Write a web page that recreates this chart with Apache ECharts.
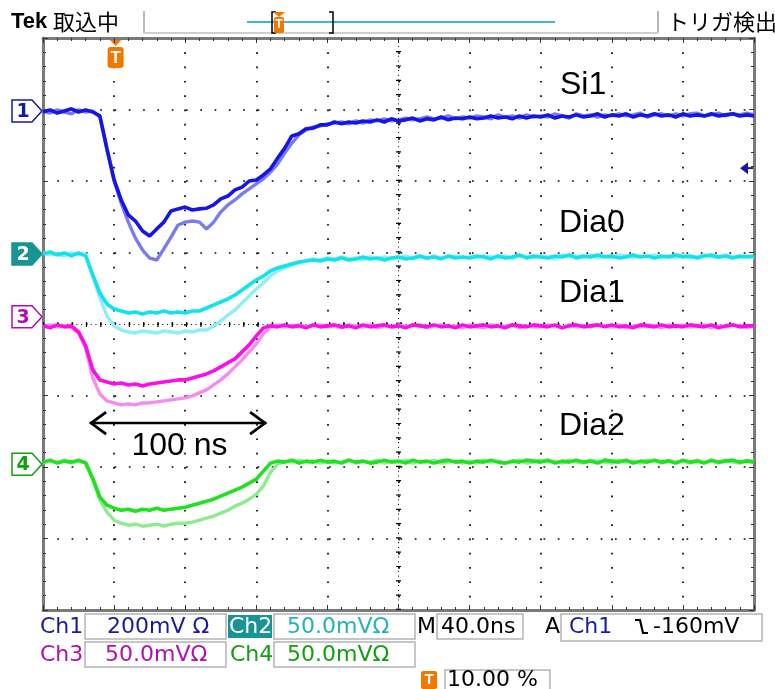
<!DOCTYPE html>
<html><head><meta charset="utf-8">
<script src="https://cdn.jsdelivr.net/npm/echarts@6/dist/echarts.min.js"></script>
<style>html,body{margin:0;padding:0;background:#fff}#c{width:775px;height:689px}</style>
</head><body><div id="c"></div>
<script>
// ---------------- data ----------------
const timeNs = [
 -40,-36,-32,-28,-24,-20,-16,-12,-8,-4,
 0,4,8,12,16,20,24,28,32,36,
 40,44,48,52,56,60,64,68,72,76,
 80,84,88,92,96,100,104,108,112,116,
 120,124,128,132,136,140,144,148,152,156,
 160,164,168,172,176,180,184,188,192,196,
 200,204,208,212,216,220,224,228,232,236,
 240,244,248,252,256,260,264,268,272,276,
 280,284,288,292,296,300,304,308,312,316,
 320,324,328,332,336,340,344,348,352,356,
 360];
const xTicksNs = [-40,0,40,80,120,160,200,240,280,320,360];

const channelNames = ['Si1','Dia0','Dia1','Dia2'];
const channelLabels = ['Ch1','Ch2','Ch3','Ch4'];
const scaleMvPerDiv = [200, 50, 50, 50];
const scaleTexts = ['200mV \u03a9','50.0mV\u03a9','50.0mV\u03a9','50.0mV\u03a9'];
const timePerDivText = '40.0ns';
const triggerLevelMv = -160;
const triggerText = '-160mV';
const triggerPosText = '10.00 %';
const spanNs = 100;

// Ch1 (Si1) in mV
const ch1Upper = [
 -3,3,-6,0,6,-3,3,-3,-14,-106,
 -193,-249,-291,-308,-336,-350,-330,-311,-280,-274,
 -269,-277,-274,-272,-263,-246,-238,-221,-213,-196,
 -193,-179,-162,-132,-104,-70,-64,-50,-48,-39,
 -39,-31,-36,-31,-34,-28,-31,-25,-31,-22,
 -28,-25,-20,-28,-22,-25,-17,-25,-20,-22,
 -17,-22,-20,-14,-20,-17,-22,-14,-20,-14,
 -17,-11,-20,-14,-17,-11,-17,-14,-8,-17,
 -11,-14,-8,-17,-11,-14,-8,-14,-11,-17,
 -8,-14,-11,-14,-8,-14,-11,-8,-14,-11,
 -14];
const ch1Lower = [
 0,-6,3,-3,-8,3,-3,0,-17,-109,
 -196,-258,-311,-356,-389,-412,-417,-386,-353,-319,
 -311,-308,-311,-330,-311,-283,-263,-249,-232,-218,
 -204,-190,-171,-148,-118,-90,-67,-53,-45,-42,
 -36,-34,-31,-36,-28,-34,-25,-28,-22,-28,
 -25,-20,-25,-22,-17,-22,-20,-14,-22,-17,
 -20,-14,-17,-22,-11,-17,-14,-20,-11,-17,
 -14,-17,-8,-14,-20,-8,-14,-11,-17,-11,
 -14,-8,-14,-11,-6,-17,-11,-8,-14,-8,
 -14,-8,-6,-14,-11,-6,-14,-8,-11,-6,
 -11];
// Ch2 (Dia0) in mV
const ch2Upper = [
 0,1.4,-0.7,0.7,-1.4,0.7,-1.4,-14.7,-27.3,-35,
 -38.5,-39.9,-41.3,-40.6,-42,-40.6,-41.3,-39.9,-41.3,-40.6,
 -41.3,-39.9,-39.9,-37.8,-35.7,-33.6,-31.5,-28.7,-25.2,-21.7,
 -18.2,-15.4,-11.9,-9.8,-8.4,-7,-5.6,-4.9,-4.2,-4.9,
 -3.5,-4.2,-2.8,-4.2,-3.5,-2.1,-3.5,-2.8,-4.2,-2.8,
 -2.1,-3.5,-2.8,-1.4,-2.8,-2.1,-3.5,-1.4,-2.8,-2.1,
 -2.8,-1.4,-2.1,-3.5,-1.4,-2.8,-2.1,-0.7,-2.8,-1.4,
 -2.1,-2.8,-1.4,-2.1,-0.7,-2.8,-1.4,-2.1,-0.7,-2.1,
 -1.4,-2.8,-2.1,-0.7,-2.1,-1.4,-2.8,-1.4,-2.1,-0.7,
 -2.1,-1.4,-2.8,-1.4,-0.7,-2.1,-1.4,-2.8,-1.4,-2.1,
 -1.4];
const ch2Lower = [
 0.7,-0.7,0,-1.4,0.7,-0.7,0,-16.1,-30.8,-43.4,
 -50.4,-53.2,-54.6,-55.3,-53.9,-54.6,-55.3,-53.9,-54.6,-55.3,
 -53.9,-54.6,-53.2,-53.2,-50.4,-46.9,-42.7,-39.2,-34.3,-29.4,
 -24.5,-20.3,-15.4,-11.9,-9.8,-7.7,-6.3,-4.9,-3.5,-4.2,
 -2.8,-3.5,-2.1,-3.5,-2.8,-4.2,-2.1,-3.5,-2.1,-3.5,
 -2.8,-1.4,-3.5,-2.1,-3.5,-1.4,-2.8,-2.1,-1.4,-2.8,
 -2.1,-2.8,-1.4,-2.1,-2.8,-1.4,-3.5,-1.4,-2.1,-2.8,
 -1.4,-2.1,-3.5,-0.7,-2.1,-1.4,-2.8,-0.7,-2.8,-1.4,
 -2.8,-0.7,-1.4,-2.8,-1.4,-2.1,-0.7,-2.8,-1.4,-2.8,
 -0.7,-2.8,-2.1,-0.7,-2.1,-2.8,-0.7,-2.1,-2.8,-1.4,
 -2.8];
// Ch3 (Dia1) in mV
const ch3Upper = [
 -6.3,-7.7,-5.6,-7,-6.3,-10.5,-20.3,-37.1,-44.1,-45.5,
 -46.9,-46.2,-47.6,-46.9,-48.3,-46.9,-46.2,-45.5,-44.8,-44.1,
 -44.1,-42.7,-41.3,-39.9,-37.8,-35,-32.2,-29.4,-24.5,-19.6,
 -13.3,-7.7,-6.3,-7,-5.6,-7,-6.3,-7.7,-5.6,-7,
 -6.3,-5.6,-7,-6.3,-7.7,-5.6,-7,-6.3,-5.6,-7,
 -6.3,-7.7,-5.6,-6.3,-7,-5.6,-7,-6.3,-7.7,-5.6,
 -7,-6.3,-5.6,-7,-6.3,-7.7,-5.6,-6.3,-7,-5.6,
 -6.3,-7,-5.6,-7.7,-6.3,-5.6,-7,-6.3,-5.6,-7,
 -5.6,-7,-6.3,-7.7,-5.6,-6.3,-7,-5.6,-7,-6.3,
 -7,-5.6,-6.3,-7,-5.6,-7.7,-6.3,-5.6,-7,-6.3,
 -6.3];
const ch3Lower = [
 -7,-5.6,-7,-6.3,-7.7,-11.2,-21.7,-42.7,-53.9,-58.8,
 -60.2,-61.6,-60.9,-61.6,-60.2,-60.2,-59.5,-58.8,-58.1,-57.4,
 -56.7,-55.3,-53.2,-51.1,-47.6,-44.1,-39.9,-35,-30.1,-24.5,
 -18.9,-11.9,-7,-5.6,-7,-6.3,-5.6,-7,-6.3,-5.6,
 -7,-6.3,-7.7,-5.6,-6.3,-7,-5.6,-7.7,-6.3,-7,
 -5.6,-7,-6.3,-5.6,-7.7,-6.3,-5.6,-7,-6.3,-7.7,
 -5.6,-7,-7.7,-5.6,-7,-6.3,-5.6,-7.7,-6.3,-7,
 -7,-5.6,-6.3,-7.7,-5.6,-7,-6.3,-7,-5.6,-6.3,
 -7,-5.6,-7.7,-6.3,-7,-5.6,-6.3,-7.7,-5.6,-7,
 -5.6,-7,-6.3,-5.6,-7.7,-6.3,-7,-5.6,-6.3,-7.7,
 -5.6];
// Ch4 (Dia2) in mV
const ch4Upper = [
 1.4,2.8,0.7,2.1,1.4,2.8,0.7,-9.8,-23.1,-28.7,
 -30.8,-32.2,-31.5,-32.9,-31.5,-32.2,-30.8,-32.2,-31.5,-30.8,
 -30.1,-28.7,-27.3,-25.9,-24.5,-22.4,-20.3,-18.2,-16.1,-13.3,
 -10.5,-4.9,0.7,2.1,1.4,2.8,0.7,2.1,1.4,2.8,
 1.4,2.1,0.7,2.8,1.4,2.1,0.7,1.4,2.8,1.4,
 2.1,0.7,2.8,1.4,2.1,0.7,2.1,2.8,1.4,2.1,
 0.7,2.1,1.4,2.8,1.4,0.7,2.1,1.4,2.8,2.1,
 1.4,2.8,0.7,2.1,1.4,2.8,1.4,2.1,0.7,2.8,
 2.1,1.4,2.8,0.7,2.1,1.4,2.8,1.4,2.1,0.7,
 2.8,1.4,2.1,0.7,2.8,1.4,2.1,2.8,1.4,2.1,
 1.4];
const ch4Lower = [
 0.7,2.1,1.4,2.8,0.7,2.1,1.4,-11.2,-25.2,-33.6,
 -39.2,-41.3,-42.7,-42,-43.4,-42.7,-42,-43.4,-42,-41.3,
 -41.3,-40.6,-39.2,-37.8,-36.4,-34.3,-32.2,-29.4,-27.3,-24.5,
 -21,-15.4,-5.6,0,2.1,1.4,2.8,1.4,2.1,0.7,
 2.1,0.7,1.4,2.8,0.7,2.1,1.4,2.8,0.7,2.1,
 1.4,2.8,0.7,2.1,1.4,2.8,0.7,1.4,2.1,0.7,
 2.1,0.7,2.8,1.4,2.1,0.7,1.4,2.8,0.7,1.4,
 2.8,1.4,2.1,0.7,2.8,1.4,0.7,2.8,2.1,1.4,
 0.7,2.8,1.4,2.1,0.7,2.8,2.1,0.7,2.8,1.4,
 2.1,0.7,2.8,1.4,2.1,0.7,2.8,1.4,0.7,2.8,
 2.1];

// ---------------- layout / style ----------------
const groundDiv = [6.98, 4.98, 4.10, 2.04];       // channel ground marker levels (div from bottom)
const upperColors = ['#1616e4','#10e2ee','#fa10e6','#22e022'];
const lowerColors = ['#7b7bf0','#90eef4','#f68cf0','#8eec8e'];
const markerColors = ['#1a1a9c','#189494','#b010b0','#10a010'];
const traces = [[ch1Upper,ch1Lower],[ch2Upper,ch2Lower],[ch3Upper,ch3Lower],[ch4Upper,ch4Lower]];

const chart = echarts.init(document.getElementById('c'));
const GRID = {left:43, top:38, width:711, height:572};

function toDiv(ch, arr){ return timeNs.map((t,i)=>[t, groundDiv[ch] + arr[i]/scaleMvPerDiv[ch]]); }

const series = [];
// grid centre lines
series.push({type:'line', data:[[160,4]], symbol:'none', lineStyle:{opacity:0}, silent:true, z:1,
  markLine:{silent:true, symbol:['none','none'], label:{show:false}, animation:false,
    lineStyle:{color:'#000', width:1, type:[1,3.77]}, data:[{xAxis:160},{yAxis:4}]}});
series.push({type:'line', data:[[160,4]], symbol:'none', lineStyle:{opacity:0}, silent:true, z:1,
  markLine:{silent:true, symbol:['none','none'], label:{show:false}, animation:false,
    lineStyle:{color:'#000', width:5, type:[1.2,13.1]}, data:[{xAxis:160},{yAxis:4}]}});
traces.forEach((pair,ch)=>{
  series.push({type:'line', name:channelNames[ch]+'b', data:toDiv(ch,pair[1]), showSymbol:false, symbol:'none',
    lineStyle:{color:lowerColors[ch], width:3.4}, silent:true, z:3+ch*2});
  series.push({type:'line', name:channelNames[ch], data:toDiv(ch,pair[0]), showSymbol:false, symbol:'none',
    lineStyle:{color:upperColors[ch], width:3.6}, silent:true, z:4+ch*2});
});

const frameAxis = (pos) => ({
  axisLine:{show:true, onZero:false, lineStyle:{color:'#7a7a7a', width:3}},
  axisTick:{show:true, inside:true, length:5, lineStyle:{color:'#333', width:1}},
  minorTick:{show:true, splitNumber:5, length:3, lineStyle:{color:'#333', width:1}},
  axisLabel:{show:false}, position:pos
});

chart.setOption({
  animation:false,
  backgroundColor:'#fff',
  grid:GRID,
  xAxis:[
    Object.assign({type:'value', min:-40, max:360, interval:40, gridIndex:0,
      splitLine:{show:true, lineStyle:{color:'#000', width:1.7, type:[1.7,12.6]}}}, frameAxis('bottom')),
    Object.assign({type:'value', min:-40, max:360, interval:40, gridIndex:0, splitLine:{show:false}}, frameAxis('top'))
  ],
  yAxis:[
    Object.assign({type:'value', min:0, max:8, interval:1, gridIndex:0,
      splitLine:{show:true, lineStyle:{color:'#000', width:1.7, type:[1.7,12.6]}}}, frameAxis('left')),
    Object.assign({type:'value', min:0, max:8, interval:1, gridIndex:0, splitLine:{show:false}}, frameAxis('right'))
  ],
  series: series
});

// ---------------- decorations ----------------
const px = (t,v) => chart.convertToPixel({gridIndex:0},[t,v]);
const g = [];
const TXT = (text,x,y,fill,font,extra) => Object.assign({type:'text', x:x, y:y, silent:true,
  style:{text:text, fill:fill, font:font, align:'left', verticalAlign:'middle'}}, extra||{});
const LINE = (x1,y1,x2,y2,stroke,w) => ({type:'line', silent:true, shape:{x1,y1,x2,y2}, style:{stroke, lineWidth:w}});
const RECT = (x,y,w,h,stroke,fill,lw,r) => ({type:'rect', silent:true, shape:{x,y,width:w,height:h,r:r||0}, style:{stroke:stroke||null, fill:fill||null, lineWidth:lw||1}});

// top bar
const CJK = '"Noto Sans CJK JP"';
g.push(TXT('Tek',11,22,'#000','bold 22px "Liberation Sans"'));
g.push(TXT('取込中',53,22,'#000','22px '+CJK));
g.push(LINE(144,11,144,33,'#a0a0a0',1.5));
g.push(LINE(658,11,658,33,'#a0a0a0',1.5));
g.push(LINE(144,33,658,33,'#cfcfcf',2));
g.push(LINE(247,22,555,22,'#45b8b8',2));
g.push({type:'polyline', silent:true, shape:{points:[[276,12],[272,12],[272,33],[276,33]]}, style:{stroke:'#000', lineWidth:1.5, fill:null}});
g.push({type:'polyline', silent:true, shape:{points:[[329,12],[333,12],[333,33],[329,33]]}, style:{stroke:'#000', lineWidth:1.5, fill:null}});
g.push({type:'polygon', silent:true, shape:{points:[[273,12],[285,12],[279,17]]}, style:{fill:'#f07800'}});
g.push(RECT(274,17,10,16,null,'#f07800',1,2));
g.push({type:'text', silent:true, x:279, y:25, style:{text:'T', fill:'#fff', font:'bold 12px "Liberation Sans"', align:'center', verticalAlign:'middle'}});
g.push(TXT('トリガ検出',667,22,'#000','22px '+CJK));

// trigger position marker
const tx = px(0,0)[0] + 1.5;
g.push({type:'polygon', silent:true, shape:{points:[[tx-8.5,37],[tx+8.5,37],[tx,46]]}, style:{fill:'#f07800'}});
g.push(RECT(tx-8,47,16,21,null,'#f07800',1,3));
g.push({type:'text', silent:true, x:tx, y:58, style:{text:'T', fill:'#fff', font:'bold 17px "Liberation Sans"', align:'center', verticalAlign:'middle'}});

// channel ground markers
for (let ch=0; ch<4; ch++){
  const c = px(-40, groundDiv[ch])[1];
  const filled = ch===1;
  g.push({type:'polygon', silent:true, shape:{points:[[12,c-11],[32,c-11],[42,c],[32,c+11],[12,c+11]]},
    style:{stroke:markerColors[ch], fill: filled ? markerColors[ch] : '#fff', lineWidth:1.5}});
  g.push({type:'text', silent:true, x:23, y:c+1, style:{text:String(ch+1), fill: filled ? '#fff' : markerColors[ch],
    font:'bold 19px "DejaVu Sans"', align:'center', verticalAlign:'middle'}});
}
// trigger level arrow (right edge)
const ty = px(360, groundDiv[0] + triggerLevelMv/scaleMvPerDiv[0])[1];
g.push({type:'polygon', silent:true, shape:{points:[[740,ty],[748,ty-6],[748,ty+6]]}, style:{fill:'#1a1a9c'}});
g.push(LINE(746,ty,754,ty,'#1a1a9c',2));

// channel name annotations
const ANN = '32px "Liberation Sans"';
g.push(TXT(channelNames[0],560,85,'#000',ANN));
g.push(TXT(channelNames[1],559,223.5,'#000',ANN));
g.push(TXT(channelNames[2],559,293.5,'#000',ANN));
g.push(TXT(channelNames[3],559,426.5,'#000',ANN));

// 100 ns span arrow
const ay = px(0, 2.615)[1];
const ax1 = px(-13.5,0)[0], ax2 = px(-13.5 + spanNs*0.99,0)[0];
g.push(LINE(ax1,ay,ax2,ay,'#000',2.6));
g.push({type:'polyline', silent:true, shape:{points:[[ax1+16,ay-11],[ax1+1,ay],[ax1+16,ay+11]]}, style:{stroke:'#000', lineWidth:2.8, fill:null}});
g.push({type:'polyline', silent:true, shape:{points:[[ax2-16,ay-11],[ax2-1,ay],[ax2-16,ay+11]]}, style:{stroke:'#000', lineWidth:2.8, fill:null}});
g.push(TXT(spanNs+' ns',131.5,446.5,'#000',ANN));

// status bar
const SF = '22px "DejaVu Sans"';
const BOX = '#b4b4b4';
const r1 = 627, r2 = 655, r3 = 680;
g.push(TXT(channelLabels[0],40,r1,markerColors[0],SF));
g.push(RECT(85,614,141,25,BOX,null,1.5));
g.push(TXT(scaleTexts[0],107,r1,markerColors[0],SF));
g.push(RECT(228,615,44,23,null,'#189494'));
g.push(TXT(channelLabels[1],229,r1,'#fff',SF));
g.push(RECT(274,614,141,25,BOX,null,1.5));
g.push(TXT(scaleTexts[1],287,r1,'#22b4b4',SF));
g.push(TXT('M',417,r1,'#000',SF));
g.push(RECT(437,614,86,25,BOX,null,1.5));
g.push(TXT(timePerDivText,441,r1,'#000',SF));
g.push(TXT('A',545,r1,'#000',SF));
g.push(RECT(561,614,201,27,BOX,null,1.5));
g.push(TXT(channelLabels[0],569,r1,markerColors[0],SF));
g.push({type:'polyline', silent:true, shape:{points:[[635,620],[640,620],[643,633],[648,633]]}, style:{stroke:'#000', lineWidth:2.2, fill:null}});
g.push(TXT(triggerText,653,r1,'#000',SF));
g.push(TXT(channelLabels[2],40,r2,markerColors[2],SF));
g.push(RECT(85,642,141,25,BOX,null,1.5));
g.push(TXT(scaleTexts[2],105,r2,markerColors[2],SF));
g.push(TXT(channelLabels[3],230,r2,markerColors[3],SF));
g.push(RECT(274,642,141,25,BOX,null,1.5));
g.push(TXT(scaleTexts[3],287,r2,markerColors[3],SF));
g.push(RECT(421,671,16,18,null,'#f07800',1,2));
g.push({type:'text', silent:true, x:429, y:680, style:{text:'T', fill:'#fff', font:'bold 15px "Liberation Sans"', align:'center', verticalAlign:'middle'}});
g.push(RECT(445,670,105,22,BOX,null,1.5));
g.push(TXT(triggerPosText,447,r3,'#000',SF));

chart.setOption({graphic:{elements:g}});
</script>
</body></html>
